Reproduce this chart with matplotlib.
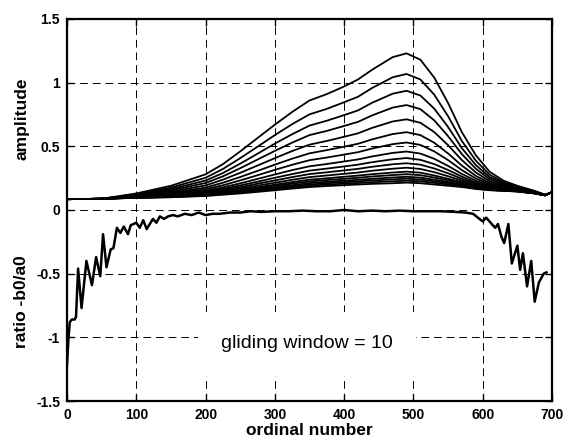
import matplotlib
matplotlib.use("Agg")
import matplotlib.pyplot as plt
import matplotlib.transforms as mtransforms

plt.rcParams['font.family'] = ['Liberation Sans', 'DejaVu Sans']

# sample positions (ordinal number) for the amplitude family
amp_x = [0, 50, 100, 150, 200, 225, 250, 275, 300, 325, 350, 375, 400, 420,
         440, 470, 490, 510, 530, 550, 570, 590, 610, 630, 650, 675, 690, 700]

# one row per curve, largest first
amp_curves = [
    [0.085, 0.088, 0.130, 0.190, 0.280, 0.360, 0.460, 0.565, 0.670, 0.770, 0.860, 0.910, 0.970, 1.025, 1.100, 1.200, 1.230, 1.180, 1.040, 0.840, 0.610, 0.430, 0.300, 0.230, 0.190, 0.150, 0.120, 0.140],
    [0.085, 0.088, 0.124, 0.176, 0.253, 0.322, 0.407, 0.497, 0.588, 0.674, 0.751, 0.794, 0.846, 0.889, 0.957, 1.042, 1.068, 1.025, 0.906, 0.736, 0.541, 0.388, 0.277, 0.217, 0.183, 0.147, 0.119, 0.140],
    [0.085, 0.088, 0.120, 0.164, 0.231, 0.290, 0.364, 0.442, 0.521, 0.595, 0.663, 0.701, 0.745, 0.782, 0.841, 0.913, 0.936, 0.899, 0.796, 0.652, 0.485, 0.353, 0.258, 0.207, 0.177, 0.144, 0.119, 0.140],
    [0.085, 0.088, 0.116, 0.154, 0.212, 0.264, 0.328, 0.396, 0.464, 0.529, 0.588, 0.621, 0.660, 0.692, 0.742, 0.804, 0.824, 0.792, 0.704, 0.580, 0.438, 0.324, 0.242, 0.198, 0.172, 0.142, 0.118, 0.140],
    [0.085, 0.088, 0.112, 0.144, 0.193, 0.238, 0.292, 0.349, 0.407, 0.463, 0.513, 0.542, 0.575, 0.602, 0.644, 0.695, 0.712, 0.685, 0.612, 0.509, 0.391, 0.295, 0.226, 0.189, 0.167, 0.140, 0.117, 0.140],
    [0.085, 0.088, 0.109, 0.135, 0.176, 0.214, 0.259, 0.307, 0.356, 0.403, 0.445, 0.470, 0.497, 0.520, 0.554, 0.596, 0.611, 0.588, 0.528, 0.444, 0.348, 0.268, 0.212, 0.181, 0.163, 0.138, 0.117, 0.140],
    [0.085, 0.088, 0.106, 0.128, 0.163, 0.194, 0.232, 0.273, 0.315, 0.355, 0.391, 0.412, 0.435, 0.454, 0.482, 0.517, 0.530, 0.511, 0.460, 0.392, 0.313, 0.247, 0.200, 0.175, 0.159, 0.136, 0.117, 0.140],
    [0.085, 0.088, 0.103, 0.122, 0.151, 0.178, 0.209, 0.244, 0.279, 0.313, 0.343, 0.361, 0.381, 0.397, 0.420, 0.448, 0.459, 0.443, 0.402, 0.346, 0.283, 0.229, 0.190, 0.169, 0.156, 0.135, 0.116, 0.140],
    [0.085, 0.088, 0.102, 0.117, 0.142, 0.166, 0.193, 0.222, 0.253, 0.282, 0.309, 0.325, 0.342, 0.356, 0.375, 0.398, 0.408, 0.394, 0.360, 0.314, 0.262, 0.215, 0.183, 0.165, 0.154, 0.134, 0.116, 0.140],
    [0.085, 0.088, 0.100, 0.114, 0.136, 0.156, 0.180, 0.206, 0.232, 0.258, 0.282, 0.296, 0.311, 0.323, 0.339, 0.359, 0.367, 0.356, 0.326, 0.288, 0.245, 0.205, 0.177, 0.162, 0.152, 0.133, 0.116, 0.140],
    [0.085, 0.088, 0.099, 0.110, 0.130, 0.148, 0.168, 0.191, 0.214, 0.237, 0.258, 0.271, 0.284, 0.294, 0.308, 0.324, 0.332, 0.322, 0.297, 0.265, 0.230, 0.196, 0.172, 0.159, 0.150, 0.132, 0.116, 0.140],
    [0.085, 0.088, 0.098, 0.108, 0.125, 0.140, 0.158, 0.178, 0.199, 0.219, 0.238, 0.249, 0.261, 0.270, 0.281, 0.294, 0.301, 0.293, 0.271, 0.245, 0.217, 0.188, 0.167, 0.157, 0.149, 0.132, 0.115, 0.140],
    [0.085, 0.088, 0.097, 0.106, 0.121, 0.136, 0.152, 0.170, 0.189, 0.207, 0.224, 0.235, 0.245, 0.253, 0.263, 0.274, 0.281, 0.273, 0.255, 0.232, 0.208, 0.182, 0.164, 0.155, 0.148, 0.131, 0.115, 0.140],
    [0.085, 0.088, 0.097, 0.104, 0.118, 0.131, 0.145, 0.161, 0.178, 0.195, 0.211, 0.221, 0.230, 0.237, 0.245, 0.255, 0.261, 0.254, 0.238, 0.219, 0.199, 0.177, 0.162, 0.154, 0.147, 0.131, 0.115, 0.140],
    [0.085, 0.088, 0.096, 0.103, 0.115, 0.127, 0.140, 0.155, 0.171, 0.186, 0.200, 0.210, 0.218, 0.225, 0.232, 0.240, 0.246, 0.239, 0.225, 0.210, 0.193, 0.173, 0.159, 0.152, 0.146, 0.131, 0.115, 0.140],
    [0.085, 0.088, 0.096, 0.101, 0.113, 0.124, 0.135, 0.148, 0.163, 0.177, 0.190, 0.199, 0.207, 0.212, 0.218, 0.225, 0.230, 0.225, 0.213, 0.200, 0.187, 0.169, 0.157, 0.151, 0.146, 0.130, 0.115, 0.140],
    [0.085, 0.088, 0.095, 0.100, 0.110, 0.120, 0.130, 0.142, 0.155, 0.168, 0.180, 0.188, 0.195, 0.200, 0.205, 0.210, 0.215, 0.210, 0.200, 0.190, 0.180, 0.165, 0.155, 0.150, 0.145, 0.130, 0.115, 0.140],
]

# ratio -b0/a0
ratio_x = [0, 2, 4, 7, 11, 13, 16, 21, 28, 36,
           42, 48, 52, 57, 63, 67, 72, 77, 82, 88,
           92, 100, 105, 110, 115, 124, 129, 134, 140, 146,
           153, 160, 170, 180, 190, 200, 210, 220, 235, 250,
           265, 280, 300, 320, 340, 360, 380, 400, 420, 440,
           460, 480, 500, 520, 540, 560, 575, 586, 593, 600,
           605, 613, 618, 622, 627, 631, 637, 642, 650, 654,
           658, 664, 670, 675, 681, 688, 692]
ratio_y = [-1.22, -1.02, -0.88, -0.86, -0.86, -0.84, -0.46, -0.77, -0.40, -0.59,
           -0.37, -0.52, -0.19, -0.45, -0.31, -0.30, -0.14, -0.18, -0.13, -0.19,
           -0.12, -0.10, -0.14, -0.08, -0.15, -0.07, -0.10, -0.05, -0.07, -0.05,
           -0.04, -0.05, -0.03, -0.04, -0.02, -0.04, -0.03, -0.03, -0.02, -0.02,
           -0.01, -0.015, -0.01, -0.01, -0.005, -0.01, -0.01, 0.0, -0.01, -0.005,
           -0.01, -0.005, -0.01, -0.01, -0.01, -0.015, -0.02, -0.03, -0.06, -0.09,
           -0.06, -0.11, -0.14, -0.11, -0.21, -0.26, -0.11, -0.42, -0.28, -0.47,
           -0.34, -0.60, -0.40, -0.72, -0.57, -0.50, -0.49]

x_ticks = [0, 100, 200, 300, 400, 500, 600, 700]
y_ticks = [-1.5, -1, -0.5, 0, 0.5, 1, 1.5]
y_tick_labels = ['-1.5', '-1', '-0.5', '0', '0.5', '1', '1.5']

fig = plt.figure(figsize=(5.65, 4.41), dpi=100)
ax = fig.add_axes([0.1186, 0.0907, 0.8584, 0.8663])

for curve in amp_curves:
    ax.plot(amp_x, curve, color='black', linewidth=1.3, solid_joinstyle='round')
ax.plot(ratio_x, ratio_y, color='black', linewidth=1.8, solid_joinstyle='round')

ax.set_xlim(0, 700)
ax.set_ylim(-1.5, 1.5)
ax.set_xticks(x_ticks)
ax.set_yticks(y_ticks)
ax.set_yticklabels(y_tick_labels)
ax.grid(True, color='black', linewidth=0.7, linestyle=(0, (8, 5)))
ax.tick_params(direction='in', length=5, width=1, top=True, right=True,
               labelsize=10, pad=5)
for lbl in ax.get_xticklabels() + ax.get_yticklabels():
    lbl.set_fontweight('bold')
for sp in ax.spines.values():
    sp.set_linewidth(1.6)

ax.set_xlabel('ordinal number', fontsize=12.5, fontweight='bold', labelpad=1)
trans = mtransforms.blended_transform_factory(ax.transAxes, ax.transData)
ax.text(-0.093, 0.72, 'amplitude', transform=trans, rotation=90,
        ha='center', va='center', fontsize=12.5, fontweight='bold')
ax.text(-0.093, -0.72, 'ratio -b0/a0', transform=trans, rotation=90,
        ha='center', va='center', fontsize=12.5, fontweight='bold')

ax.text(346, -1.05, 'gliding window = 10', fontsize=14, ha='center', va='center',
        bbox=dict(boxstyle='square,pad=1.2', facecolor='white', edgecolor='none'),
        zorder=5)

fig.savefig('out.png', dpi=100)
